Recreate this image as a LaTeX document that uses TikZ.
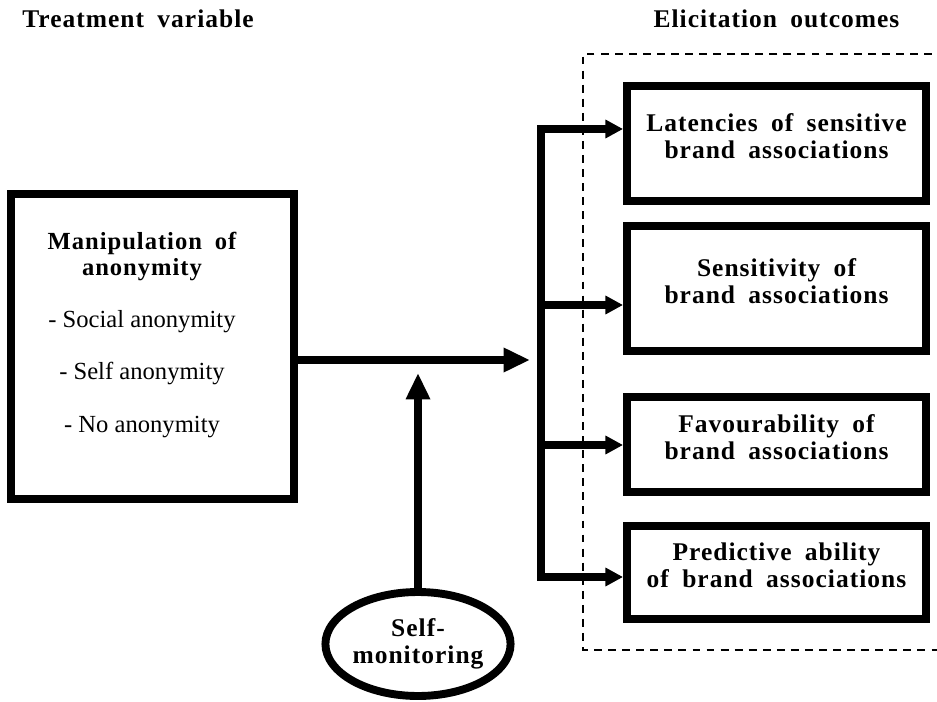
\documentclass[tikz,border=0pt]{standalone}
\usepackage{fontspec}
\setmainfont{Liberation Serif}
\newfontfamily\spacedfont[LetterSpace=4.0,WordSpace=1.8]{Liberation Serif}
\usepackage{tikz}
\usetikzlibrary{arrows.meta}
\usetikzlibrary{shapes.geometric}
\tikzstyle{thickbox}=[rectangle,draw,line width=4.5pt,inner sep=0pt]
\tikzstyle{ovalbox}=[ellipse,draw,line width=4.5pt,inner sep=0pt]
\tikzstyle{boxtext}=[font=\spacedfont\bfseries\fontsize{14.5}{15.3}\selectfont,align=center]
\tikzstyle{edge} = [draw,line width=4.5pt,-{Triangle[length=10pt,width=10pt]}]
\tikzstyle{bigedge} = [draw,line width=4.5pt,-{Triangle[length=15pt,width=13pt]}]
\tikzstyle{bus} = [draw,line width=4.5pt,line cap=rect]
\tikzstyle{dashframe} = [draw,line width=1.1pt,dash pattern=on 4.5pt off 3.5pt]

\begin{document}
\begin{tikzpicture}
\useasboundingbox (0,0) rectangle (18.74,-14.04);

    % Column headings
    \node[boxtext] (treat) at (2.76,-0.38) {Treatment variable};
    \node[boxtext] (elicit) at (15.53,-0.38) {Elicitation outcomes};

    % Treatment box
    \node[thickbox,minimum width=5.66cm,minimum height=6.1cm] (anon) at (3.05,-6.93) {};
    \node[font=\fontsize{14}{14.3}\selectfont,align=center] (anontext) at (2.84,-6.70)
        {{\spacedfont\bfseries Manipulation of}\\{\spacedfont\bfseries anonymity}\\[15.5pt]
         - Social anonymity\\[15.5pt] - Self anonymity\\[15.5pt] - No anonymity};

    % Outcome boxes inside the dashed frame
    \draw[dashframe] (19.2,-1.08) -| (11.66,-13.0) -- (19.2,-13.0);
    \foreach \pos/\name/\height/\label in {{(15.53,-2.87)/lat/2.30/{Latencies of sensitive\\brand associations}},
        {(15.53,-5.77)/sens/2.50/{Sensitivity of\\brand associations}},
        {(15.53,-8.89)/fav/1.90/{Favourability of\\brand associations}},
        {(15.53,-11.45)/pred/1.86/{Predictive ability\\of brand associations}}}
        \node[thickbox,boxtext,text depth=0.3cm,minimum width=5.98cm,minimum height=\height cm] (\name) at \pos {\label};

    % Moderator
    \node[ovalbox,boxtext,minimum width=3.64cm,minimum height=2.08cm] (selfmon) at (8.36,-12.88) {Self-\\monitoring};

    % Arrows
    \coordinate (join) at (10.6,-7.2);
    \coordinate (modtip) at (8.36,-7.46);
    \path[bigedge] (anon.east |- join) -- (join);
    \path[bigedge] (selfmon.north) -- (modtip);

    % Bus and branches
    \coordinate (b1) at (10.82,-2.58);
    \coordinate (b2) at (10.82,-6.10);
    \coordinate (b3) at (10.82,-8.90);
    \coordinate (b4) at (10.82,-11.54);
    \path[bus] (b1) -- (b4);
    \foreach \source/\dest in {b1/lat, b2/sens, b3/fav, b4/pred}
          \path[edge] (\source) -- (\source -| \dest.west);

\end{tikzpicture}
\end{document}
